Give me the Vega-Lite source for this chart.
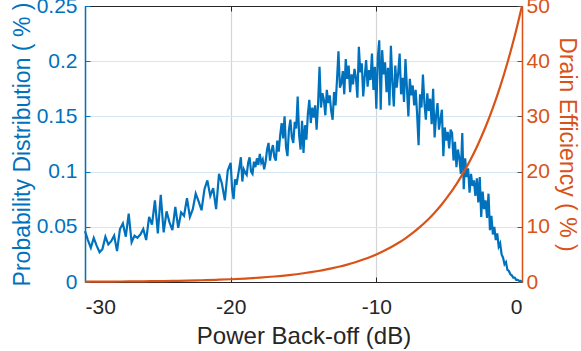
{
  "$schema": "https://vega.github.io/schema/vega-lite/v6.json",
  "width": 437,
  "height": 276,
  "autosize": "none",
  "padding": {"left": 85, "top": 6, "right": 59, "bottom": 69},
  "background": "white",
  "config": {
    "view": {"stroke": "#262626", "strokeWidth": 1},
    "font": "Liberation Sans",
    "axis": {"labelFont": "Liberation Sans", "titleFont": "Liberation Sans", "titleFontWeight": "normal"}
  },
  "datasets": {
    "prob": [
      {"x": -30.0, "p": 0.046}, {"x": -29.8, "p": 0.038}, {"x": -29.6, "p": 0.031}, {"x": -29.4, "p": 0.040}, {"x": -29.2, "p": 0.033},
      {"x": -29.0, "p": 0.027}, {"x": -28.8, "p": 0.030}, {"x": -28.6, "p": 0.041}, {"x": -28.4, "p": 0.034}, {"x": -28.2, "p": 0.037},
      {"x": -28.0, "p": 0.042}, {"x": -27.8, "p": 0.028}, {"x": -27.6, "p": 0.048}, {"x": -27.4, "p": 0.053}, {"x": -27.2, "p": 0.041},
      {"x": -27.0, "p": 0.062}, {"x": -26.8, "p": 0.036}, {"x": -26.6, "p": 0.042}, {"x": -26.4, "p": 0.040}, {"x": -26.2, "p": 0.043},
      {"x": -26.0, "p": 0.048}, {"x": -25.8, "p": 0.038}, {"x": -25.6, "p": 0.059}, {"x": -25.4, "p": 0.052}, {"x": -25.2, "p": 0.074},
      {"x": -25.0, "p": 0.044}, {"x": -24.8, "p": 0.079}, {"x": -24.6, "p": 0.045}, {"x": -24.4, "p": 0.064}, {"x": -24.2, "p": 0.054},
      {"x": -24.0, "p": 0.047}, {"x": -23.8, "p": 0.068}, {"x": -23.6, "p": 0.049}, {"x": -23.4, "p": 0.063}, {"x": -23.2, "p": 0.060},
      {"x": -23.0, "p": 0.076}, {"x": -22.8, "p": 0.059}, {"x": -22.6, "p": 0.066}, {"x": -22.4, "p": 0.080}, {"x": -22.2, "p": 0.073},
      {"x": -22.0, "p": 0.065}, {"x": -21.8, "p": 0.084}, {"x": -21.6, "p": 0.092}, {"x": -21.4, "p": 0.078}, {"x": -21.2, "p": 0.085},
      {"x": -21.0, "p": 0.066}, {"x": -20.8, "p": 0.098}, {"x": -20.6, "p": 0.089}, {"x": -20.4, "p": 0.074}, {"x": -20.2, "p": 0.101},
      {"x": -20.0, "p": 0.108},
      {"x": -19.9, "p": 0.084}, {"x": -19.8, "p": 0.075}, {"x": -19.7, "p": 0.093}, {"x": -19.6, "p": 0.088}, {"x": -19.5, "p": 0.096},
      {"x": -19.4, "p": 0.104}, {"x": -19.3, "p": 0.113}, {"x": -19.2, "p": 0.091}, {"x": -19.1, "p": 0.102}, {"x": -19.0, "p": 0.099},
      {"x": -18.9, "p": 0.097}, {"x": -18.8, "p": 0.108}, {"x": -18.7, "p": 0.113}, {"x": -18.6, "p": 0.100}, {"x": -18.5, "p": 0.098},
      {"x": -18.4, "p": 0.109}, {"x": -18.3, "p": 0.104}, {"x": -18.2, "p": 0.112}, {"x": -18.1, "p": 0.106}, {"x": -18.0, "p": 0.116},
      {"x": -17.9, "p": 0.108}, {"x": -17.8, "p": 0.111}, {"x": -17.7, "p": 0.102}, {"x": -17.6, "p": 0.109}, {"x": -17.5, "p": 0.120},
      {"x": -17.4, "p": 0.126}, {"x": -17.3, "p": 0.110}, {"x": -17.2, "p": 0.119}, {"x": -17.1, "p": 0.124}, {"x": -17.0, "p": 0.113},
      {"x": -16.9, "p": 0.110}, {"x": -16.8, "p": 0.128}, {"x": -16.7, "p": 0.118}, {"x": -16.6, "p": 0.133}, {"x": -16.5, "p": 0.144},
      {"x": -16.4, "p": 0.130}, {"x": -16.3, "p": 0.150}, {"x": -16.2, "p": 0.122}, {"x": -16.1, "p": 0.114}, {"x": -16.0, "p": 0.138},
      {"x": -15.9, "p": 0.147}, {"x": -15.8, "p": 0.131}, {"x": -15.7, "p": 0.126}, {"x": -15.6, "p": 0.145}, {"x": -15.5, "p": 0.139},
      {"x": -15.4, "p": 0.168}, {"x": -15.3, "p": 0.133}, {"x": -15.2, "p": 0.120}, {"x": -15.1, "p": 0.146}, {"x": -15.0, "p": 0.117},
      {"x": -14.9, "p": 0.142}, {"x": -14.8, "p": 0.129}, {"x": -14.7, "p": 0.152}, {"x": -14.6, "p": 0.165}, {"x": -14.5, "p": 0.144},
      {"x": -14.4, "p": 0.158}, {"x": -14.3, "p": 0.149}, {"x": -14.2, "p": 0.160}, {"x": -14.1, "p": 0.138}, {"x": -14.0, "p": 0.161},
      {"x": -13.9, "p": 0.195}, {"x": -13.8, "p": 0.158}, {"x": -13.7, "p": 0.171}, {"x": -13.6, "p": 0.165}, {"x": -13.5, "p": 0.151},
      {"x": -13.4, "p": 0.174}, {"x": -13.3, "p": 0.162}, {"x": -13.2, "p": 0.169}, {"x": -13.1, "p": 0.155}, {"x": -13.0, "p": 0.147},
      {"x": -12.9, "p": 0.172}, {"x": -12.8, "p": 0.160}, {"x": -12.7, "p": 0.183}, {"x": -12.6, "p": 0.209}, {"x": -12.5, "p": 0.176},
      {"x": -12.4, "p": 0.180}, {"x": -12.3, "p": 0.191}, {"x": -12.2, "p": 0.170}, {"x": -12.1, "p": 0.202}, {"x": -12.0, "p": 0.184},
      {"x": -11.9, "p": 0.196}, {"x": -11.8, "p": 0.172}, {"x": -11.7, "p": 0.188}, {"x": -11.6, "p": 0.179}, {"x": -11.5, "p": 0.193},
      {"x": -11.4, "p": 0.185}, {"x": -11.3, "p": 0.167}, {"x": -11.2, "p": 0.213}, {"x": -11.1, "p": 0.190}, {"x": -11.0, "p": 0.198},
      {"x": -10.9, "p": 0.168}, {"x": -10.8, "p": 0.186}, {"x": -10.7, "p": 0.201}, {"x": -10.6, "p": 0.177}, {"x": -10.5, "p": 0.192},
      {"x": -10.4, "p": 0.183}, {"x": -10.3, "p": 0.207}, {"x": -10.2, "p": 0.174}, {"x": -10.1, "p": 0.195}, {"x": -10.0, "p": 0.157},
      {"x": -9.9, "p": 0.203}, {"x": -9.8, "p": 0.219}, {"x": -9.7, "p": 0.156}, {"x": -9.6, "p": 0.210}, {"x": -9.5, "p": 0.188},
      {"x": -9.4, "p": 0.199}, {"x": -9.3, "p": 0.172}, {"x": -9.2, "p": 0.194}, {"x": -9.1, "p": 0.160}, {"x": -9.0, "p": 0.214},
      {"x": -8.9, "p": 0.181}, {"x": -8.8, "p": 0.159}, {"x": -8.7, "p": 0.196}, {"x": -8.6, "p": 0.176}, {"x": -8.5, "p": 0.189},
      {"x": -8.4, "p": 0.207}, {"x": -8.3, "p": 0.170}, {"x": -8.2, "p": 0.185}, {"x": -8.1, "p": 0.163}, {"x": -8.0, "p": 0.202},
      {"x": -7.9, "p": 0.176}, {"x": -7.8, "p": 0.150}, {"x": -7.7, "p": 0.184}, {"x": -7.6, "p": 0.169}, {"x": -7.5, "p": 0.178},
      {"x": -7.4, "p": 0.160}, {"x": -7.3, "p": 0.174}, {"x": -7.2, "p": 0.152}, {"x": -7.1, "p": 0.124}, {"x": -7.0, "p": 0.170},
      {"x": -6.9, "p": 0.158}, {"x": -6.8, "p": 0.188}, {"x": -6.7, "p": 0.162}, {"x": -6.6, "p": 0.147}, {"x": -6.5, "p": 0.171},
      {"x": -6.4, "p": 0.155}, {"x": -6.3, "p": 0.166}, {"x": -6.2, "p": 0.143}, {"x": -6.1, "p": 0.175}, {"x": -6.0, "p": 0.131},
      {"x": -5.9, "p": 0.150}, {"x": -5.8, "p": 0.162}, {"x": -5.7, "p": 0.138}, {"x": -5.6, "p": 0.147}, {"x": -5.5, "p": 0.156},
      {"x": -5.4, "p": 0.114}, {"x": -5.3, "p": 0.140}, {"x": -5.2, "p": 0.128}, {"x": -5.1, "p": 0.136}, {"x": -5.0, "p": 0.121},
      {"x": -4.9, "p": 0.138}, {"x": -4.8, "p": 0.135}, {"x": -4.7, "p": 0.110}, {"x": -4.6, "p": 0.127}, {"x": -4.5, "p": 0.104},
      {"x": -4.4, "p": 0.120}, {"x": -4.3, "p": 0.112}, {"x": -4.2, "p": 0.098}, {"x": -4.1, "p": 0.135}, {"x": -4.0, "p": 0.084},
      {"x": -3.9, "p": 0.112}, {"x": -3.8, "p": 0.095}, {"x": -3.7, "p": 0.103}, {"x": -3.6, "p": 0.081}, {"x": -3.5, "p": 0.098},
      {"x": -3.4, "p": 0.087}, {"x": -3.3, "p": 0.092}, {"x": -3.2, "p": 0.078}, {"x": -3.1, "p": 0.094}, {"x": -3.0, "p": 0.072},
      {"x": -2.9, "p": 0.095}, {"x": -2.8, "p": 0.059}, {"x": -2.7, "p": 0.082}, {"x": -2.6, "p": 0.066}, {"x": -2.5, "p": 0.074},
      {"x": -2.4, "p": 0.058}, {"x": -2.3, "p": 0.080}, {"x": -2.2, "p": 0.047}, {"x": -2.1, "p": 0.060}, {"x": -2.0, "p": 0.043},
      {"x": -1.9, "p": 0.050}, {"x": -1.8, "p": 0.038}, {"x": -1.7, "p": 0.044}, {"x": -1.6, "p": 0.032}, {"x": -1.5, "p": 0.035},
      {"x": -1.4, "p": 0.025}, {"x": -1.3, "p": 0.022}, {"x": -1.2, "p": 0.016}, {"x": -1.1, "p": 0.018}, {"x": -1.0, "p": 0.011},
      {"x": -0.9, "p": 0.010}, {"x": -0.8, "p": 0.007}, {"x": -0.7, "p": 0.006}, {"x": -0.6, "p": 0.004}, {"x": -0.5, "p": 0.004},
      {"x": -0.4, "p": 0.002}, {"x": -0.3, "p": 0.002}, {"x": -0.2, "p": 0.001}, {"x": -0.1, "p": 0.001}, {"x": 0.0, "p": 0.0}
    ],
    "eff": [
      {"x": -30, "e": 0.05}, {"x": -29, "e": 0.063}, {"x": -28, "e": 0.079}, {"x": -27, "e": 0.1}, {"x": -26, "e": 0.126},
      {"x": -25, "e": 0.158}, {"x": -24, "e": 0.199}, {"x": -23, "e": 0.251}, {"x": -22, "e": 0.315}, {"x": -21, "e": 0.397},
      {"x": -20, "e": 0.5}, {"x": -19, "e": 0.629}, {"x": -18, "e": 0.792}, {"x": -17, "e": 0.998}, {"x": -16, "e": 1.256},
      {"x": -15, "e": 1.581}, {"x": -14.5, "e": 1.774}, {"x": -14, "e": 1.991}, {"x": -13.5, "e": 2.233}, {"x": -13, "e": 2.506},
      {"x": -12.5, "e": 2.812}, {"x": -12, "e": 3.155}, {"x": -11.5, "e": 3.54}, {"x": -11, "e": 3.972}, {"x": -10.5, "e": 4.456},
      {"x": -10, "e": 5.0}, {"x": -9.5, "e": 5.61}, {"x": -9, "e": 6.29}, {"x": -8.5, "e": 7.06}, {"x": -8, "e": 7.92},
      {"x": -7.5, "e": 8.89}, {"x": -7, "e": 9.98}, {"x": -6.5, "e": 11.19}, {"x": -6, "e": 12.56}, {"x": -5.5, "e": 14.09},
      {"x": -5, "e": 15.81}, {"x": -4.5, "e": 17.74}, {"x": -4, "e": 19.91}, {"x": -3.5, "e": 22.33}, {"x": -3, "e": 25.06},
      {"x": -2.5, "e": 28.12}, {"x": -2, "e": 31.55}, {"x": -1.5, "e": 35.4}, {"x": -1, "e": 39.72}, {"x": -0.5, "e": 44.56},
      {"x": 0, "e": 50}
    ]
  },
  "layer": [
    {
      "data": {"name": "prob"},
      "mark": {"type": "line", "color": "#0072BD", "strokeWidth": 2.2, "interpolate": "linear"},
      "encoding": {
        "x": {
          "field": "x", "type": "quantitative",
          "scale": {"domain": [-30, 0], "nice": false, "zero": false},
          "axis": {
            "orient": "bottom", "values": [-30, -20, -10, 0], "title": "Power Back-off (dB)",
            "labelExpr": "'' + datum.value",
            "labelFontSize": 21, "titleFontSize": 24, "labelColor": "#262626", "titleColor": "#262626",
            "domainColor": "#262626", "tickColor": "#262626", "tickSize": -5, "labelPadding": 19,
            "titlePadding": 7, "grid": true, "gridColor": "#d4d4d4", "gridWidth": 1.2
          }
        },
        "y": {
          "field": "p", "type": "quantitative",
          "scale": {"domain": [0, 0.25], "nice": false},
          "axis": {
            "orient": "left", "values": [0, 0.05, 0.1, 0.15, 0.2, 0.25],
            "labelExpr": "'' + datum.value",
            "title": "Probability Distribution ( % )",
            "labelFontSize": 21, "titleFontSize": 23, "labelColor": "#0072BD", "titleColor": "#0072BD",
            "domainColor": "#0072BD", "domainWidth": 1.5, "tickColor": "#0072BD", "tickSize": -5, "labelPadding": 13,
            "titlePadding": 2, "grid": true, "gridColor": "#d7e6f3", "gridWidth": 1.2
          }
        }
      }
    },
    {
      "data": {"name": "eff"},
      "mark": {"type": "line", "color": "#D95319", "strokeWidth": 2.2, "interpolate": "monotone"},
      "encoding": {
        "x": {
          "field": "x", "type": "quantitative",
          "axis": {
            "orient": "top", "values": [-30, -20, -10, 0], "labels": false, "title": null,
            "domainColor": "#262626", "tickColor": "#262626", "tickSize": -5, "grid": false
          }
        },
        "y": {
          "field": "e", "type": "quantitative",
          "scale": {"domain": [0, 50], "nice": false},
          "axis": {
            "orient": "right", "values": [0, 10, 20, 30, 40, 50], "title": "Drain Efficiency ( % )",
            "labelExpr": "'' + datum.value",
            "labelFontSize": 21, "titleFontSize": 23, "labelColor": "#D95319", "titleColor": "#D95319",
            "domainColor": "#D95319", "domainWidth": 1.5, "tickColor": "#555555", "tickSize": -5, "labelPadding": 9,
            "titlePadding": 5, "grid": false
          }
        }
      }
    }
  ],
  "resolve": {"scale": {"y": "independent"}}
}
